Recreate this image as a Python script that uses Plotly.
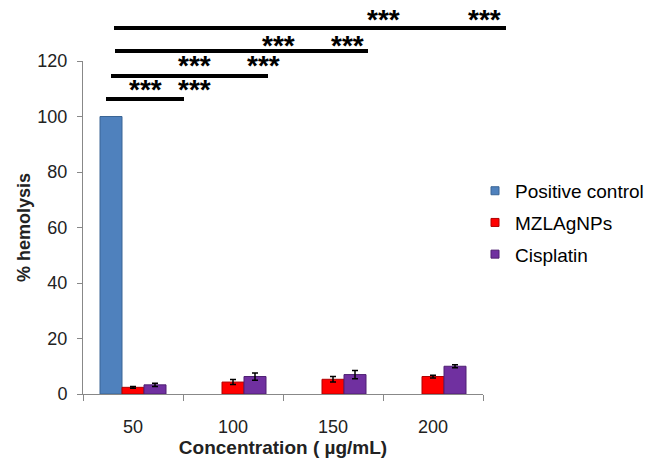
import plotly.graph_objects as go

categories = ["50", "100", "150", "200"]
positive_control = [100, None, None, None]
mzlagnps = [2.4, 4.3, 5.3, 6.3]
mzlagnps_err = [0.3, 0.9, 1.0, 0.5]
cisplatin = [3.3, 6.3, 7.0, 10.0]
cisplatin_err = [0.6, 1.3, 1.5, 0.5]

# significance brackets: (start, end) in category units, paper y of the line
brackets = [(-0.27, 0.51, 0.886), (-0.22, 1.35, 0.955), (-0.18, 2.35, 1.030), (-0.19, 3.73, 1.099)]
# star labels: two positions (category units) and paper y
stars = [(0.12, 0.61, 0.913), (0.61, 1.30, 0.985), (1.45, 2.14, 1.046), (2.50, 3.51, 1.124)]

n_cat = len(categories)


def to_domain(v):
    return (v + 0.5) / n_cat


fig = go.Figure()
series = [
    ("Positive control", positive_control, None, "#4F81BD", "#3A6595"),
    ("MZLAgNPs", mzlagnps, mzlagnps_err, "#FF0000", "#B00000"),
    ("Cisplatin", cisplatin, cisplatin_err, "#7030A0", "#4E1F72"),
]
for i, (name, vals, err, col, lcol) in enumerate(series):
    kw = {}
    if err is not None:
        kw["error_y"] = dict(type="data", array=err, color="black", thickness=1.5, width=3)
    fig.add_trace(go.Bar(x=categories, y=vals, name=name, showlegend=False,
                         marker=dict(color=col, line=dict(color=lcol, width=1)), **kw))
    fig.add_trace(go.Scatter(x=[None], y=[None], mode="markers", name=name,
                             marker=dict(symbol="square", size=8, color=col,
                                         line=dict(color=lcol, width=1)),
                             legendgroup=f"g{i}"))

for x0, x1, y in brackets:
    fig.add_shape(type="line", xref="x domain", yref="paper", x0=to_domain(x0), x1=to_domain(x1),
                  y0=y, y1=y, line=dict(color="black", width=4))
for xa, xb, y in stars:
    for xs in (xa, xb):
        fig.add_annotation(x=to_domain(xs), y=y, xref="x domain", yref="paper", text="<b>***</b>",
                           showarrow=False,
                           font=dict(family="Liberation Sans, Arial", size=28, color="black"),
                           yanchor="middle", xanchor="center")

fig.update_layout(
    width=664, height=459,
    margin=dict(l=83, r=181, t=61, b=65),
    paper_bgcolor="white", plot_bgcolor="white",
    barmode="group", bargap=0.34, bargroupgap=0,
    font=dict(family="Liberation Sans, Arial", size=18, color="#222"),
    legend=dict(x=0.98, y=0.667, xanchor="left", yanchor="top",
                traceorder="grouped", tracegroupgap=4,
                font=dict(size=19, color="black")),
    showlegend=True,
)
fig.update_xaxes(type="category", range=[-0.5, 3.5], showline=True, linecolor="#888", linewidth=1,
                 ticks="outside", ticklen=6, tickcolor="#888", tickson="boundaries",
                 showgrid=False, ticklabelstandoff=16, automargin=False,
                 title=dict(text="<b>Concentration ( µg/mL)</b>", font=dict(size=19, color="#222"), standoff=4))
fig.update_yaxes(range=[0, 120], tickvals=[0, 20, 40, 60, 80, 100, 120], showline=True, linecolor="#888",
                 linewidth=1, ticks="outside", ticklen=5, tickcolor="#888", showgrid=False, zeroline=False,
                 ticklabelstandoff=6, automargin=False,
                 title=dict(text="<b>% hemolysis</b>", font=dict(size=18, color="#222"), standoff=2))

fig.write_html("out.html", config={"displayModeBar": False},
               post_script="document.body.style.margin='0px';")
